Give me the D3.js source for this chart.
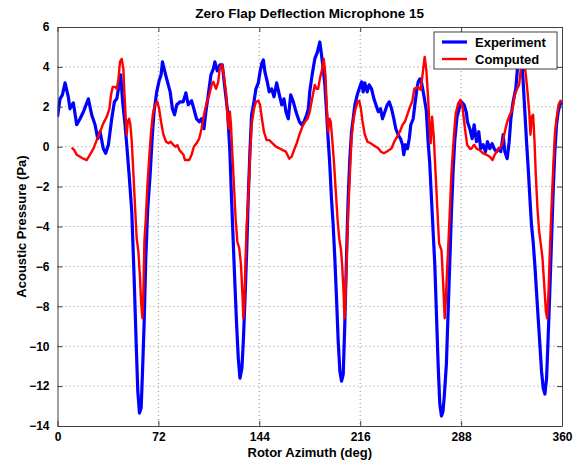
<!DOCTYPE html>
<html>
<head>
<meta charset="utf-8">
<script src="https://cdn.jsdelivr.net/npm/d3@7"></script>
<style>
  body { margin: 0; background: #fff; }
  svg text { font-family: "Liberation Sans", Arial, Helvetica, sans-serif; font-weight: bold; fill: #000; }
</style>
</head>
<body>
<div id="chart"></div>
<script>
var title = "Zero Flap Deflection Microphone 15";
var xLabel = "Rotor Azimuth (deg)";
var yLabel = "Acoustic Pressure (Pa)";
var xTicks = [0, 72, 144, 216, 288, 360];
var yTicks = [-14, -12, -10, -8, -6, -4, -2, 0, 2, 4, 6];
var seriesNames = ["Experiment", "Computed"];

// [azimuth deg, pressure Pa]
var experiment = [
  [0,1.5],[1.8,2.4],[3.5,2.6],[5.4,3.2],[7.7,2.5],[8.9,1.9],[11.3,2.2],[13.7,1.1],[16.1,1.4],[18.5,1.75],
  [22.0,2.4],[24.4,1.6],[26.8,1.1],[28.7,0.4],[30.4,0.75],[32.7,-0.1],[34.4,-0.33],[36.3,0.1],[38.7,1.4],
  [40.6,2.25],[42.3,2.4],[43.5,2.9],[45.1,3.6],[46.5,2.25],[48.2,1.1],[49.4,0.1],[51.1,-1.4],[53.0,-3.25],
  [54.6,-6.4],[56.1,-9.75],[57.3,-12.25],[58.5,-13.35],[59.7,-13.1],[60.6,-11.4],[61.8,-8.9],[63.0,-5.6],
  [64.4,-3.1],[66.1,-1.4],[67.7,0.6],[68.9,1.75],[70.8,2.75],[72.5,3.3],[73.9,3.6],[74.9,4.25],[76.1,3.9],
  [77.9,3.4],[80.4,2.75],[82.0,1.9],[83.5,1.6],[85.1,2.1],[87.5,2.25],[89.7,2.25],[91.6,2.7],[93.3,2.1],
  [95.7,2.3],[97.3,1.9],[99.2,1.4],[101.1,1.25],[102.8,1.4],[104.5,0.9],[105.9,1.75],[107.6,2.6],[109.5,3.6],
  [111.2,3.9],[112.3,4.25],[114.0,3.8],[115.9,4.1],[117.6,4.1],[119.5,2.9],[121.4,1.75],[123.0,-0.25],
  [124.2,-2.6],[125.4,-4.75],[126.6,-6.9],[127.8,-8.9],[129.0,-10.6],[130.2,-11.6],[131.6,-11.1],[132.6,-9.75],
  [133.8,-7.6],[135.0,-5.25],[136.1,-2.6],[137.3,-0.25],[138.5,1.6],[140.2,2.25],[141.6,2.9],[143.3,3.2],
  [144.5,3.75],[145.9,4.2],[146.9,4.35],[148.0,3.75],[149.7,3.25],[151.1,2.75],[152.8,2.9],[154.5,2.5],
  [156.4,3.2],[158.3,2.6],[160.0,2.1],[161.6,2.4],[163.0,1.75],[164.7,1.4],[166.4,2.6],[168.3,2.25],
  [170.2,1.75],[172.6,1.25],[174.2,1.1],[175.9,1.25],[177.8,1.6],[179.0,1.9],[180.0,2.75],[181.7,3.6],
  [183.6,4.4],[185.5,4.75],[187.2,5.25],[188.4,4.6],[189.6,3.9],[190.8,3.1],[192.0,1.75],[193.1,0.4],
  [194.3,-0.9],[195.5,-2.6],[196.7,-3.9],[197.9,-5.6],[199.1,-7.6],[200.3,-9.75],[201.5,-11.25],[202.7,-11.75],
  [203.9,-11.4],[205.0,-8.9],[206.2,-5.6],[207.4,-2.6],[208.6,-0.6],[209.8,0.75],[211.0,1.4],[212.2,2.1],
  [213.9,2.6],[215.3,2.9],[217.0,3.25],[218.1,2.75],[219.3,3.2],[221.0,2.75],[222.4,3.1],[224.1,2.9],
  [225.8,2.4],[227.2,2.1],[228.9,1.75],[230.5,1.9],[231.9,1.4],[233.6,1.75],[235.3,2.1],[236.7,2.25],
  [238.4,1.9],[240.0,1.4],[241.4,0.9],[243.1,0.6],[244.8,0.4],[246.2,0.1],[247.1,-0.4],[248.3,0.1],
  [249.7,-0.1],[251.0,0.4],[252.1,1.1],[253.8,1.4],[255.0,2.1],[256.2,2.75],[257.4,3.25],[258.6,3.4],
  [259.8,3.2],[261.6,2.5],[263.2,1.8],[264.4,0.3],[265.6,-0.8],[266.8,-2.5],[268.0,-4.2],[269.2,-5.85],
  [270.4,-8.35],[271.6,-10.9],[272.8,-12.9],[274.0,-13.5],[275.0,-13.3],[275.9,-12.6],[277.5,-10.9],
  [278.7,-8.35],[279.9,-5.85],[281.1,-3.3],[282.3,-1.2],[283.5,0.33],[285.1,1.5],[286.6,1.9],[288.2,2.25],
  [290.1,2.1],[291.8,1.7],[292.5,1.25],[294.2,0.9],[295.9,0.4],[297.3,1.1],[299.0,0.25],[300.6,0.75],
  [302.0,-0.1],[303.7,0.1],[305.4,-0.25],[306.8,0.25],[308.5,-0.1],[310.1,0.15],[311.6,-0.1],[313.2,-0.25],
  [314.9,-0.1],[316.3,-0.25],[318.0,0.6],[319.2,-0.25],[320.9,-0.6],[322.3,0.25],[323.5,1.4],[325.1,2.25],
  [327.0,2.9],[328.2,3.9],[329.2,4.4],[330.5,4.8],[332.0,3.6],[333.5,1.75],[334.7,0.25],[335.9,-1.1],
  [337.1,-2.6],[338.2,-3.9],[339.4,-4.75],[340.6,-5.9],[341.8,-7.25],[343.0,-8.6],[344.2,-9.9],[345.4,-11.25],
  [346.6,-12.1],[347.8,-12.4],[349.0,-11.6],[350.1,-9.6],[351.3,-7.25],[352.5,-4.75],[353.7,-2.25],
  [354.9,-0.25],[356.1,1.1],[357.3,1.75],[358.5,2.1],[359.9,2.25]
];

var computed = [
  [10.1,-0.05],[12.0,-0.17],[13.7,-0.4],[16.1,-0.5],[18.5,-0.6],[20.8,-0.67],[23.2,-0.4],[25.6,-0.1],
  [28.0,0.33],[30.4,0.75],[32.7,1.17],[35.1,1.5],[37.0,1.9],[38.2,2.6],[39.4,3.0],[41.1,3.0],[42.3,2.9],
  [43.5,3.4],[44.6,4.25],[45.8,4.4],[47.0,3.9],[47.7,2.75],[48.7,1.4],[49.4,0.6],[50.1,1.25],[51.1,1.4],
  [52.0,1.1],[53.0,0.25],[54.2,-1.4],[55.4,-3.1],[56.5,-4.6],[57.7,-5.25],[58.9,-6.6],[59.6,-7.75],
  [60.6,-8.6],[61.3,-7.25],[62.0,-4.75],[63.0,-3.6],[64.2,-1.9],[65.4,-0.6],[66.6,0.6],[68.0,1.6],
  [69.6,2.1],[71.3,2.25],[72.5,1.9],[73.9,1.25],[75.6,0.6],[77.5,0.25],[79.2,0.17],[80.8,0.25],[82.7,0.08],
  [84.4,0.0],[85.6,0.08],[87.0,-0.17],[89.9,-0.4],[90.9,-0.67],[94.0,-0.67],[95.7,-0.4],[97.3,0.0],
  [99.2,0.17],[101.1,0.4],[102.8,0.9],[104.5,1.6],[106.4,2.2],[108.3,2.6],[110.0,3.1],[111.2,3.25],
  [113.1,2.9],[114.7,3.25],[115.9,4.0],[117.6,4.1],[119.0,3.4],[120.2,2.75],[121.4,1.4],[122.3,0.9],
  [123.0,1.75],[123.8,1.1],[124.7,-0.25],[125.9,-1.9],[127.1,-3.6],[128.3,-4.75],[129.7,-5.1],[130.9,-5.9],
  [132.1,-7.6],[132.6,-8.6],[133.3,-7.9],[134.2,-5.6],[135.0,-3.9],[136.1,-2.6],[137.3,-0.6],[138.5,1.1],
  [140.2,1.9],[141.6,2.25],[143.3,2.3],[144.5,2.1],[145.9,1.4],[147.3,0.75],[149.2,0.33],[151.1,0.33],
  [153.5,0.17],[155.9,0.0],[158.3,-0.08],[160.7,-0.17],[163.0,-0.25],[165.4,-0.6],[167.1,-0.5],[168.8,-0.17],
  [170.7,0.17],[172.6,0.6],[174.7,1.0],[176.6,1.25],[178.4,1.4],[180.0,1.75],[181.7,2.4],[183.6,3.1],
  [184.8,2.9],[186.0,2.9],[187.2,3.4],[188.9,3.9],[190.0,4.4],[191.2,3.6],[192.2,1.9],[193.1,0.75],
  [194.1,1.4],[195.0,1.25],[196.0,0.4],[197.4,-0.9],[198.6,-2.25],[199.8,-3.6],[201.0,-4.6],[202.2,-5.1],
  [203.1,-5.9],[204.1,-7.25],[204.8,-8.6],[205.5,-7.6],[206.5,-5.25],[207.4,-3.25],[208.6,-1.4],[209.8,0.4],
  [211.2,1.4],[212.7,1.9],[214.1,2.25],[215.3,2.3],[216.5,1.9],[217.7,1.25],[219.3,0.6],[221.2,0.25],
  [223.4,0.17],[225.3,0.08],[227.2,0.0],[228.9,-0.08],[230.8,-0.25],[232.9,-0.33],[234.8,-0.25],
  [236.7,-0.17],[238.4,-0.08],[240.3,0.25],[242.4,0.5],[244.3,0.75],[246.2,1.1],[247.9,1.25],[249.6,1.6],
  [251.5,2.0],[253.1,2.25],[254.6,2.9],[257.3,3.0],[259.2,2.85],[260.9,3.85],[262.0,4.5],[263.2,3.85],
  [264.4,2.5],[265.6,0.85],[266.3,0.17],[267.3,1.5],[268.5,0.5],[269.7,-1.2],[271.1,-3.2],[272.3,-4.85],
  [274.0,-5.2],[275.1,-6.7],[276.3,-8.6],[277.0,-7.8],[277.8,-6.5],[278.7,-5.2],[279.9,-3.3],[281.1,-1.35],
  [282.8,0.5],[284.2,1.67],[285.9,2.17],[287.5,2.35],[289.0,2.0],[290.6,1.0],[292.3,0.1],[294.2,-0.1],
  [295.4,-0.1],[297.3,0.1],[299.0,-0.1],[301.3,-0.17],[303.7,-0.33],[306.1,-0.4],[308.5,-0.5],[310.4,-0.67],
  [312.0,-0.4],[314.0,-0.17],[315.6,-0.08],[317.5,0.17],[319.2,0.75],[320.9,1.25],[322.8,1.6],[324.7,1.9],
  [326.3,2.6],[328.0,2.9],[329.4,3.1],[330.4,3.75],[331.5,4.4],[332.5,4.6],[333.4,4.0],[334.2,3.6],
  [335.4,2.75],[336.6,1.75],[337.5,0.6],[338.4,1.5],[339.4,1.6],[340.4,0.25],[341.3,-1.4],[342.5,-3.1],
  [343.7,-4.25],[344.9,-4.9],[346.1,-5.6],[347.3,-6.9],[348.5,-8.25],[349.4,-8.6],[350.4,-7.25],[351.3,-5.25],
  [352.5,-3.1],[353.7,-1.1],[354.9,0.6],[356.1,1.4],[357.5,2.1],[358.9,2.3],[359.9,2.25]
];

var width = 578, height = 465;
var margin = {top: 27, right: 16, bottom: 39, left: 57.5};
var plotW = width - margin.left - margin.right;
var plotH = height - margin.top - margin.bottom;

var svg = d3.select("#chart").append("svg").attr("width", width).attr("height", height);

var x = d3.scaleLinear().domain([0, 360]).range([0, plotW]);
var y = d3.scaleLinear().domain([-14, 6]).range([plotH, 0]);

var g = svg.append("g").attr("transform", "translate(" + margin.left + "," + margin.top + ")");

g.append("clipPath").attr("id", "clip")
  .append("rect").attr("width", plotW).attr("height", plotH);

// dotted grid
g.append("g").selectAll("line").data(xTicks.slice(1, -1)).enter().append("line")
  .attr("x1", d => x(d)).attr("x2", d => x(d)).attr("y1", 0).attr("y2", plotH)
  .attr("stroke", "#8c8c8c").attr("stroke-width", 1).attr("stroke-dasharray", "1,3");
g.append("g").selectAll("line").data(yTicks.slice(1, -1)).enter().append("line")
  .attr("y1", d => y(d)).attr("y2", d => y(d)).attr("x1", 0).attr("x2", plotW)
  .attr("stroke", "#8c8c8c").attr("stroke-width", 1).attr("stroke-dasharray", "1,3");

var line = d3.line().x(d => x(d[0])).y(d => y(d[1]));

var curves = g.append("g").attr("clip-path", "url(#clip)");
curves.append("path").datum(experiment).attr("d", line)
  .attr("fill", "none").attr("stroke", "#0000ff").attr("stroke-width", 3.2).attr("stroke-linejoin", "round");
curves.append("path").datum(computed).attr("d", line)
  .attr("fill", "none").attr("stroke", "#ff0000").attr("stroke-width", 2.4).attr("stroke-linejoin", "round");

// axes: ticks inside, box on all sides
var axisColor = "#404040";
var xBottom = g.append("g").attr("transform", "translate(0," + plotH + ")")
  .call(d3.axisBottom(x).tickValues(xTicks).tickSizeInner(-5).tickSizeOuter(0).tickPadding(6));
var xTop = g.append("g")
  .call(d3.axisTop(x).tickValues(xTicks).tickSizeInner(-5).tickSizeOuter(0).tickFormat(""));
var yLeft = g.append("g")
  .call(d3.axisLeft(y).tickValues(yTicks).tickSizeInner(-5).tickSizeOuter(0).tickPadding(8));
var yRight = g.append("g").attr("transform", "translate(" + plotW + ",0)")
  .call(d3.axisRight(y).tickValues(yTicks).tickSizeInner(-5).tickSizeOuter(0).tickFormat(""));

[xBottom, xTop, yLeft, yRight].forEach(a => {
  a.select(".domain").attr("stroke", axisColor);
  a.selectAll(".tick line").attr("stroke", axisColor);
  a.selectAll("text").attr("font-size", 12).attr("fill", "#000")
    .attr("font-family", "'Liberation Sans', Arial, sans-serif").attr("font-weight", "bold");
});

svg.append("text").attr("x", margin.left + plotW / 2).attr("y", 17.5)
  .attr("text-anchor", "middle").attr("font-size", 13.5).text(title);
svg.append("text").attr("x", margin.left + plotW / 2).attr("y", 457)
  .attr("text-anchor", "middle").attr("font-size", 13).text(xLabel);
svg.append("text").attr("transform", "translate(26," + (margin.top + plotH / 2) + ") rotate(-90)")
  .attr("text-anchor", "middle").attr("font-size", 13).text(yLabel);

// legend
var legend = svg.append("g").attr("transform", "translate(434,32)");
legend.append("rect").attr("width", 123).attr("height", 37)
  .attr("fill", "#fff").attr("stroke", axisColor).attr("stroke-width", 1);
var colors = ["#0000ff", "#ff0000"];
var widths = [3.2, 2.4];
seriesNames.forEach((name, i) => {
  var ly = 10 + i * 17;
  legend.append("line").attr("x1", 8).attr("x2", 33).attr("y1", ly).attr("y2", ly)
    .attr("stroke", colors[i]).attr("stroke-width", widths[i]);
  legend.append("text").attr("x", 41).attr("y", ly + 4.5).attr("font-size", 13).text(name);
});
</script>
</body>
</html>
